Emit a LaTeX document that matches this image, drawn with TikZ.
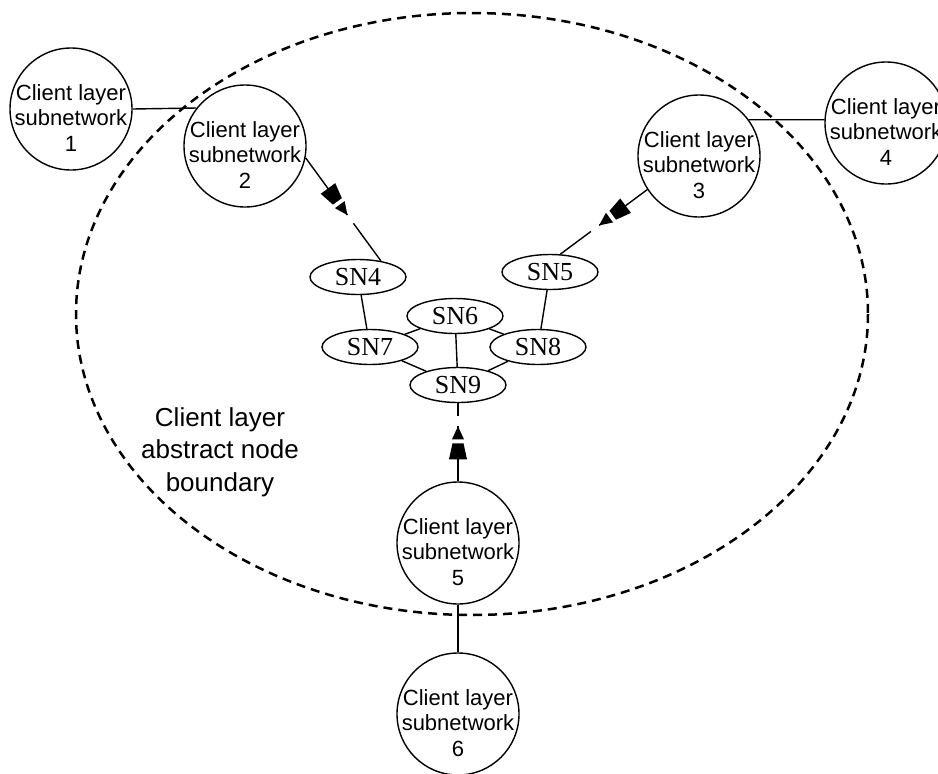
\documentclass[tikz,border=0pt]{standalone}
\usepackage{fontspec}
\setmainfont{Liberation Serif}
\setsansfont{Liberation Sans}
\usetikzlibrary{shapes.geometric,decorations.markings}

\begin{document}
\begin{tikzpicture}[x=1pt,y=-1pt,
  client/.style={circle,draw,line width=1.4pt,minimum size=122pt,inner sep=0pt},
  cltext/.style={align=center,font=\sffamily\fontsize{22}{25.5}\selectfont,yshift=-9pt},
  sn/.style={ellipse,draw,line width=1.4pt,minimum width=96pt,minimum height=35pt,inner sep=0pt,
    font=\fontsize{26}{30}\selectfont},
  link/.style={line width=1.4pt},
  adapt/.style={link,postaction={decorate,decoration={markings,mark=at position #1 with {
      \fill[white] (15,-2) rectangle (21,2);
      \fill[white] (33,-2) rectangle (43,2);
      \fill (0,-9) -- (16,-5.5) -- (16,5.5) -- (0,9) -- cycle;
      \fill (20,-6) -- (33,0) -- (20,6) -- cycle;}}}},
  boundary/.style={dash pattern=on 9pt off 6pt,line width=2.5pt}]
\useasboundingbox (0,0) rectangle (938,774);
\draw[boundary] (472,314) ellipse [x radius=396,y radius=301];
\node[align=center,font=\sffamily\fontsize{26}{32.5}\selectfont] (bnd) at (220,452)
  {Client layer\\abstract node\\boundary};

\node[client,label={[cltext]center:Client layer\\subnetwork\\1}] (c1) at (71,109) {};
\node[client,label={[cltext]center:Client layer\\subnetwork\\2}] (c2) at (245,146) {};
\node[client,label={[cltext]center:Client layer\\subnetwork\\3}] (c3) at (699,156) {};
\node[client,label={[cltext]center:Client layer\\subnetwork\\4}] (c4) at (886,123) {};
\node[client,label={[cltext]center:Client layer\\subnetwork\\5}] (c5) at (458,543) {};
\node[client,label={[cltext]center:Client layer\\subnetwork\\6}] (c6) at (458,714) {};

\node[sn] (sn4) at (358,277) {SN4};
\node[sn] (sn5) at (550,272) {SN5};
\node[sn] (sn6) at (455,316) {SN6};
\node[sn] (sn7) at (370,347) {SN7};
\node[sn] (sn8) at (538,347) {SN8};
\node[sn] (sn9) at (458,385) {SN9};

\draw[link] (c1.east) -- (c2.142.7);
\draw[link] (c3.36.2) -- (c4.177);
\draw[link] (c5) -- (c6);
\draw[adapt=38pt] (c2.-11) -- (sn4.35);
\draw[adapt=27pt] (c3.213) -- (sn5.60);
\draw[adapt=22pt] (c5) -- (sn9);
\draw[link] (sn4) -- (sn7);
\draw[link] (sn5) -- (sn8);
\draw[link] (sn6) -- (sn7);
\draw[link] (sn6) -- (sn8);
\draw[link] (sn6) -- (sn9);
\draw[link] (sn7) -- (sn9);
\draw[link] (sn8) -- (sn9);
\end{tikzpicture}
\end{document}
